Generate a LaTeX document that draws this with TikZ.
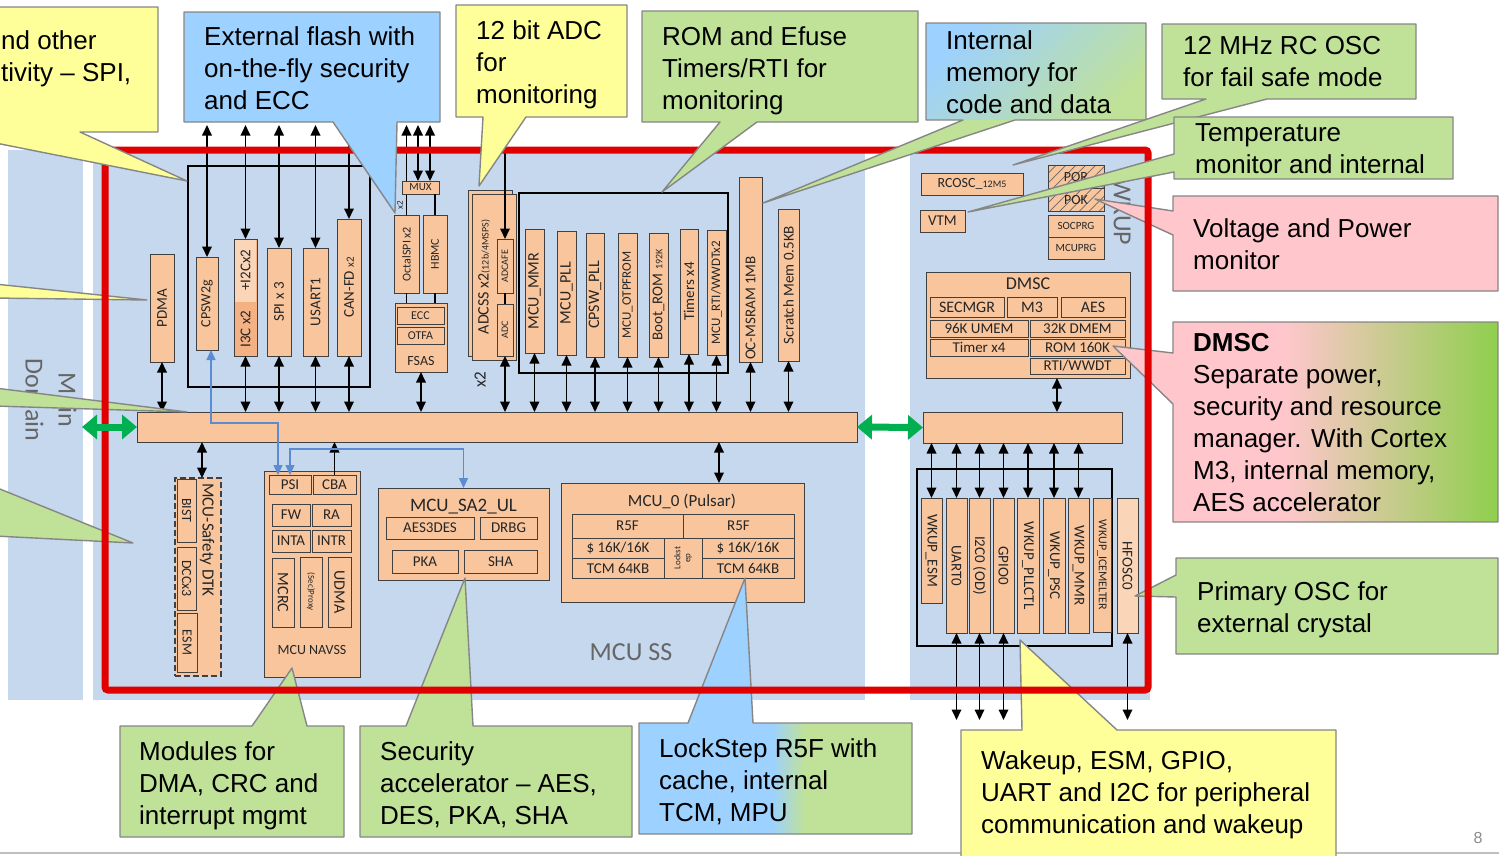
\documentclass[tikz,border=0pt]{standalone}
\usepackage{fontspec}
\setmainfont{Liberation Sans}
\newfontfamily\carl{Carlito}
\usetikzlibrary{arrows.meta,patterns.meta}
\newcommand\fsz[2]{\fontsize{#1}{#2}\selectfont}
\newcommand\pbox[6]{%
 \pgfmathsetmacro\mbW{#4-#2}\pgfmathsetmacro\mbH{#5-#3}%
 \pgfmathsetmacro\mbX{(#2+#4)/2}\pgfmathsetmacro\mbY{(#3+#5)/2}%
 \node[#6, minimum width=\mbW pt, minimum height=\mbH pt] (#1) at (\mbX,\mbY) {};}
\newcommand\mybox[8]{\pbox{#1}{#2}{#3}{#4}{#5}{#6}\node[#7] (#1-t) at (#1.center) {#8};}
\definecolor{orng}{HTML}{F8C59D}
\definecolor{orngD}{HTML}{F4B183}
\definecolor{orngL}{HTML}{FBD5B7}
\definecolor{dom}{HTML}{C6D8EE}
\definecolor{cyel}{HTML}{FFFF99}
\definecolor{cgrn}{HTML}{BFE198}
\definecolor{cblu}{HTML}{9DD1FF}
\definecolor{cpnk}{HTML}{FFC7CC}
\definecolor{gdeep}{HTML}{8FCF4E}
\definecolor{redl}{HTML}{E00000}
\definecolor{garr}{HTML}{00B050}
\definecolor{barr}{HTML}{5B8BD0}
\definecolor{cbord}{HTML}{868686}
\begin{document}
\begin{tikzpicture}[x=1pt,y=-1pt,
 mod/.style={draw=black!75, line width=1pt, fill=orng, inner sep=0pt, outer sep=0pt},
 frame/.style={draw=black, line width=2pt, inner sep=0pt, outer sep=0pt},
 lab/.style={font=\carl\fsz{15}{16}, text=black!85, inner sep=0pt},
 gtxt/.style={font=\carl\fsz{26}{33}, text=black!60, inner sep=0pt},
 darr/.style={line width=1.8pt, {Triangle[length=10.5pt,width=9.5pt]}-{Triangle[length=10.5pt,width=9.5pt]}},
 uarr/.style={line width=1.8pt, -{Triangle[length=10.5pt,width=9.5pt]}},
 conn/.style={line width=1.5pt},
 bdarr/.style={line width=1.3pt, draw=barr, {Triangle[length=10pt,width=9pt]}-{Triangle[length=10pt,width=9pt]}},
 garrow/.style={line width=7pt, draw=garr, {Triangle[length=15pt,width=24pt]}-{Triangle[length=15pt,width=24pt]}},
 callout/.style={draw=cbord, line width=1.4pt, line join=round},
 ctext/.style={font=\fsz{26}{32}, align=left, anchor=north west, inner sep=0pt, text=black}]
\useasboundingbox (0,0) rectangle (1499,855);
\fill[white] (0,0) rectangle (1499,855);
\clip (0,0) rectangle (1499,855);
\draw[black!25, line width=2pt] (0,853) -- (1499,853);
\node[font=\fsz{16}{18}, text=black!45] (pgn) at (1478,838) {8};

% domains
\fill[dom] (8,150) rectangle (83,700);
\fill[dom] (93,150) rectangle (865,700);
\fill[dom] (910,153) rectangle (1150,700);
\node[gtxt, rotate=-90, align=center] (maindom) at (51,400) {Main\\Domain};
\node[gtxt] (mcuss) at (631,652) {MCU SS};
\node[gtxt, rotate=-90] (wkupl) at (1122,212) {WKUP};

\coordinate (ytop) at (0,125);
\coordinate (ybot) at (0,720);
\coordinate (adctop) at (0,152);
\coordinate (blA) at (0,423);
\coordinate (blB) at (0,449);
\coordinate (xm0) at (719,0);
\coordinate (xd) at (1057,0);
\coordinate (mdom) at (82,427);

% buses
\pbox{mbus}{137}{412}{857}{442}{mod}
\pbox{wbus}{923}{412}{1122}{443}{mod}

% ---------- left group
\pbox{lframe}{188}{166}{370}{387}{frame}
\mybox{pdma}{150}{254}{174}{362}{mod}{lab,rotate=90}{PDMA}
\mybox{cpsw}{196}{257}{218}{350}{mod}{lab,rotate=90,font=\carl\fsz{14}{15}}{CPSW2g}
\pbox{i3c}{234}{239}{257}{356}{mod,fill=orngD}
\fill[orngL] (234.6,239.6) rectangle (256.4,302);
\node[lab,rotate=90] (i3c-a) at (245.5,329) {I3C x2};
\node[lab,rotate=90] (i3c-b) at (245.5,270) {+I2Cx2};
\mybox{spi}{267}{248}{291}{356}{mod}{lab,rotate=90}{SPI x 3}
\mybox{usart}{303}{248}{328}{356}{mod}{lab,rotate=90}{USART1}
\mybox{can}{337}{219}{361}{356}{mod}{lab,rotate=90}{CAN-FD {\fsz{11}{12}x2}}
\foreach \n in {cpsw,i3c,spi,usart,can} \draw[darr] (\n.north) -- (\n.north |- ytop);
\foreach \n in {pdma,i3c,spi,usart,can} \draw[darr] (\n.south) -- (\n.south |- mbus.north);

% ---------- OSPI / FSAS
\mybox{octal}{394}{215}{419}{293}{mod}{lab,rotate=90,font=\carl\fsz{12}{13}}{OctalSPI x2}
\mybox{hbmc}{423}{215}{447}{293}{mod}{lab,rotate=90,font=\carl\fsz{12}{13}}{HBMC}
\pbox{fsas}{395}{303}{447}{372}{mod}
\mybox{ecc}{397}{307}{444}{324}{mod}{lab,font=\carl\fsz{12}{13}}{ECC}
\mybox{otfa}{397}{327}{444}{344}{mod}{lab,font=\carl\fsz{12}{13}}{OTFA}
\node[lab,font=\carl\fsz{14}{15}] (fsas-t) at (421,361) {FSAS};
\draw[uarr] (octal.north) -- (octal.north |- ytop);
\mybox{mux}{402}{181}{439}{194}{mod}{lab,font=\carl\fsz{11}{12}}{MUX}
\node[lab,rotate=90,font=\carl\fsz{9}{10}] (x2a) at (400,205) {x2};
\draw[conn] (octal.south) -- (octal.south |- fsas.north);
\draw[conn] (hbmc.south) -- (hbmc.south |- fsas.north);
\draw[conn] (hbmc.north) -- (hbmc.north |- mux.south);
\draw[darr] ([xshift=-2.5pt]mux.north) -- ([xshift=-2.5pt]mux.north |- ytop);
\draw[darr] ([xshift=9.5pt]mux.north) -- ([xshift=9.5pt]mux.north |- ytop);
\draw[darr] (fsas.south) -- (fsas.south |- mbus.north);

% ---------- ADCSS
\pbox{adcB}{468}{190}{512}{356}{mod}
\pbox{adcss}{472}{194}{516}{360}{mod}
\node[lab,rotate=90,font=\carl\fsz{16}{17}] (adcss-t) at (484,277) {ADCSS x2{\fsz{10}{11}(12b/4MSPS)}};
\mybox{adcafe}{497}{239}{513}{293}{mod}{lab,rotate=90,font=\carl\fsz{10}{11}}{ADCAFE}
\mybox{adc}{497}{304}{513}{356}{mod}{lab,rotate=90,font=\carl\fsz{10}{11}}{ADC}
\draw[conn] (adcafe.south) -- (adc.north);
\draw[uarr] (adcafe.north |- adctop) -- (adcafe.north);
\draw[darr] (adc.south) -- (adc.south |- mbus.north);
\node[lab,rotate=90,font=\carl\fsz{17}{18}] (x2b) at (480,380) {x2};

% ---------- MCU group
\pbox{mframe}{519}{193}{728}{373}{frame}
\mybox{mmr}{525}{229}{544}{353}{mod}{lab,rotate=90,font=\carl\fsz{16}{17}}{MCU\_MMR}
\mybox{mpll}{557}{231}{576}{355}{mod}{lab,rotate=90,font=\carl\fsz{16}{17}}{MCU\_PLL}
\mybox{cpll}{586}{233}{604}{357}{mod}{lab,rotate=90,font=\carl\fsz{16}{17}}{CPSW\_PLL}
\mybox{otp}{618}{233}{637}{357}{mod}{lab,rotate=90,font=\carl\fsz{13}{14}}{MCU\_OTPFROM}
\mybox{brom}{649}{233}{668}{357}{mod}{lab,rotate=90}{Boot\_ROM {\fsz{10}{11}192K}}
\mybox{tmr}{680}{229}{698}{354}{mod}{lab,rotate=90}{Timers x4}
\mybox{rti}{707}{230}{726}{355}{mod}{lab,rotate=90,font=\carl\fsz{13}{14}}{MCU\_RTI/WWDTx2}
\pbox{msram}{739}{177}{762}{362}{mod}
\node[lab,rotate=90] (msram-t) at (750.5,308) {OC-MSRAM 1MB};
\mybox{scr}{778}{209}{799}{361}{mod}{lab,rotate=90}{Scratch Mem 0.5KB}
\foreach \n in {mmr,mpll,cpll,otp,brom,tmr,rti,msram,scr} \draw[darr] (\n.south) -- (\n.south |- mbus.north);

% ---------- Safety DTK
\pbox{dtk}{175}{478}{221}{676}{mod,dash pattern=on 6pt off 3pt,line width=1.3pt}
\node[lab,rotate=-90,font=\carl\fsz{17}{18}] (dtk-t) at (207,540) {MCU-Safety DTK};
\mybox{bist}{177}{479}{196}{542}{mod}{lab,rotate=-90,font=\carl\fsz{14}{15}}{BIST}
\mybox{dcc}{177}{547}{196}{610}{mod}{lab,rotate=-90,font=\carl\fsz{14}{15}}{DCCx3}
\mybox{esm}{177}{613}{197}{672}{mod}{lab,rotate=-90,font=\carl\fsz{14}{15}}{ESM}

% ---------- NAVSS
\pbox{navss}{264}{471}{360}{677}{mod}
\node[lab,font=\carl\fsz{14}{15}] (navss-t) at (312,650) {MCU NAVSS};
\mybox{psi}{269}{475}{311}{494}{mod}{lab}{PSI}
\mybox{cba}{313}{475}{356}{494}{mod}{lab}{CBA}
\mybox{fw}{272}{504}{310}{526}{mod}{lab}{FW}
\mybox{ra}{312}{504}{351}{526}{mod}{lab}{RA}
\mybox{inta}{272}{530}{310}{552}{mod}{lab}{INTA}
\mybox{intr}{312}{530}{351}{552}{mod}{lab}{INTR}
\mybox{mcrc}{272}{558}{294}{627}{mod}{lab,rotate=-90,font=\carl\fsz{16}{17}}{MCRC}
\mybox{sprox}{300}{557}{322}{627}{mod}{lab,rotate=-90,font=\carl\fsz{9}{10}}{(Sec)Proxy}
\mybox{udma}{328}{557}{351}{627}{mod}{lab,rotate=-90,font=\carl\fsz{16}{17}}{UDMA}

% ---------- SA2
\pbox{sa2}{378}{488}{549}{580}{mod}
\node[lab,font=\carl\fsz{19}{20}] (sa2-t) at (463.5,507) {MCU\_SA2\_UL};
\mybox{aes3}{386}{517}{474}{539}{mod}{lab}{AES3DES}
\mybox{drbg}{480}{517}{537}{539}{mod}{lab}{DRBG}
\mybox{pka}{392}{550}{458}{573}{mod}{lab}{PKA}
\mybox{sha}{464}{550}{537}{573}{mod}{lab}{SHA}

% ---------- MCU_0
\pbox{mcu0}{561}{483}{804}{602}{mod}
\node[lab,font=\carl\fsz{17}{18}] (mcu0-t) at (682,501) {MCU\_0 (Pulsar)};
\mybox{r5fa}{572}{514}{683}{538}{mod}{lab}{R5F}
\mybox{r5fb}{683}{514}{794}{538}{mod}{lab}{R5F}
\mybox{caa}{572}{538}{664}{558}{mod}{lab}{\$ 16K/16K}
\mybox{tcma}{572}{558}{664}{578}{mod}{lab}{TCM 64KB}
\mybox{lock}{664}{538}{702}{578}{mod}{lab,rotate=90,align=center,font=\carl\fsz{9}{10}}{Lockst\\ep}
\mybox{cab}{702}{538}{794}{558}{mod}{lab}{\$ 16K/16K}
\mybox{tcmb}{702}{558}{794}{578}{mod}{lab}{TCM 64KB}

% connectors lower MCU
\draw[darr] ([xshift=4pt]dtk.north) -- ([xshift=4pt]dtk.north |- mbus.south);
\draw[uarr] (cba.north) -- (cba.north |- mbus.south);
\draw[darr] (mbus.south -| xm0) -- (mcu0.north -| xm0);
\draw[bdarr] ([xshift=4pt]cpsw.south) -- ([xshift=4pt]cpsw.south |- blA) -| ([xshift=-12pt]psi.north);
\draw[bdarr] (psi.north) -- (psi.north |- blB) -| (sa2.north);

% ---------- WKUP top
\mybox{rcosc}{921}{173}{1023}{195}{mod}{lab,font=\carl\fsz{14}{15}}{RCOSC\_{\fsz{10}{11}12M5}}
\mybox{vtm}{920}{210}{965}{232}{mod}{lab}{VTM}
\pbox{por}{1048}{165}{1104}{188}{mod}
\pbox{pok}{1048}{188}{1104}{211}{mod}
\fill[pattern={Lines[angle=45,distance=7pt,line width=0.7pt]}, pattern color=black!60] (1048,165) rectangle (1104,211);
\draw[black!75,line width=1pt] (1048,165) rectangle (1104,211) (1048,188) -- (1104,188);
\node[lab,font=\carl\fsz{14}{15}] (por-t) at (por.center) {POR};
\node[lab,font=\carl\fsz{14}{15}] (pok-t) at (pok.center) {POK};
\mybox{socprg}{1048}{215}{1104}{237}{mod}{lab,font=\carl\fsz{11}{12}}{SOCPRG}
\mybox{mcuprg}{1048}{237}{1104}{259}{mod}{lab,font=\carl\fsz{11}{12}}{MCUPRG}

% ---------- DMSC
\pbox{dmsc}{926}{272}{1130}{378}{mod}
\node[lab,font=\carl\fsz{18}{19}] (dmsc-t) at (1028,284) {DMSC};
\mybox{secmgr}{930}{297}{1004}{317}{mod}{lab,font=\carl\fsz{16}{17}}{SECMGR}
\mybox{m3}{1007}{297}{1057}{317}{mod}{lab,font=\carl\fsz{16}{17}}{M3}
\mybox{aes}{1061}{297}{1125}{317}{mod}{lab,font=\carl\fsz{16}{17}}{AES}
\mybox{umem}{930}{320}{1028}{337}{mod}{lab}{96K UMEM}
\mybox{dmem}{1030}{320}{1125}{337}{mod}{lab}{32K DMEM}
\mybox{dtimer}{930}{339}{1028}{356}{mod}{lab}{Timer x4}
\mybox{drom}{1030}{339}{1125}{356}{mod}{lab}{ROM 160K}
\mybox{drti}{1030}{358}{1125}{374}{mod}{lab}{RTI/WWDT}
\draw[darr] (dmsc.south -| xd) -- (wbus.north -| xd);

% ---------- WKUP peripherals
\pbox{wframe}{917}{469}{1112}{646}{frame}
\mybox{wesm}{921}{498}{942}{603}{mod}{lab,rotate=-90}{WKUP\_ESM}
\mybox{uart}{946}{498}{967}{633}{mod}{lab,rotate=-90}{UART0}
\mybox{i2c}{969}{498}{990}{633}{mod}{lab,rotate=-90}{I2C0 (OD)}
\mybox{gpio}{993}{498}{1014}{633}{mod}{lab,rotate=-90}{GPIO0}
\mybox{pllctl}{1017}{498}{1039}{633}{mod}{lab,rotate=-90}{WKUP\_PLLCTL}
\mybox{psc}{1043}{498}{1065}{633}{mod}{lab,rotate=-90}{WKUP\_PSC}
\mybox{wmmr}{1068}{498}{1089}{633}{mod}{lab,rotate=-90}{WKUP\_MMR}
\mybox{icem}{1093}{498}{1111}{632}{mod}{lab,rotate=-90,font=\carl\fsz{12}{13}}{WKUP\_ICEMELTER}
\mybox{hfosc}{1117}{498}{1138}{633}{mod,fill=orngL}{lab,rotate=-90}{HFOSC0}
\foreach \n in {wesm,uart,i2c,gpio,pllctl,psc,wmmr} \draw[darr] (\n.north) -- (\n.north |- wbus.south);
\foreach \n in {uart,i2c,gpio,hfosc} \draw[darr] (\n.south) -- (\n.south |- ybot);

% ---------- left tails (callouts outside the picture)
\filldraw[callout, fill=cyel] (-5,284) -- (147,300) -- (-5,298) -- cycle;
\filldraw[callout, fill=cgrn] (-5,388) -- (187,412) -- (-5,406) -- cycle;
\filldraw[callout, fill=cgrn] (-5,487) -- (133,543) -- (-5,536) -- cycle;

% ---------- bottom and right callouts
\filldraw[callout, fill=cgrn] (120,726) -- (252,726) -- (292,668) -- (307,726) -- (344,726) -- (344,837) -- (120,837) -- cycle;
\node[ctext] (c-mod) at (139,741) {Modules for\\DMA, CRC and\\interrupt mgmt};
\filldraw[callout, fill=cgrn] (360,726) -- (406,726) -- (465,578) -- (473,726) -- (632,726) -- (632,837) -- (360,837) -- cycle;
\node[ctext] (c-sec) at (380,741) {Security\\accelerator – AES,\\DES, PKA, SHA};
\fill[cblu] (639,723) -- (688,723) -- (745,578) -- (753,723) -- (912,723) -- (912,834) -- (639,834) -- cycle;
\fill[cgrn] (805,723) rectangle (912,834);
\shade[left color=cblu, right color=cgrn] (772,723.5) rectangle (805,833.5);
\draw[callout] (639,723) -- (688,723) -- (745,578) -- (753,723) -- (912,723) -- (912,834) -- (639,834) -- cycle;
\node[ctext] (c-lock) at (659,738) {LockStep R5F with\\cache, internal\\TCM, MPU};
\filldraw[callout, fill=cyel] (961,730) -- (1022,730) -- (1020,640) -- (1117,730) -- (1336,730) -- (1336,870) -- (961,870) -- cycle;
\node[ctext] (c-wk) at (981,750) {Wakeup, ESM, GPIO,\\UART and I2C for peripheral\\communication and wakeup};
\filldraw[callout, fill=cpnk] (1173,196) -- (1498,196) -- (1498,291) -- (1173,291) -- (1173,235) -- (1095,199) -- (1173,211) -- cycle;
\node[ctext] (c-volt) at (1193,218) {Voltage and Power\\monitor};
\fill[cpnk] (1173,322) -- (1498,322) -- (1498,522) -- (1173,522) -- (1173,404) -- (1113,346) -- (1173,353) -- cycle;
\shade[left color=cpnk, right color=gdeep] (1285,322.5) rectangle (1497.5,521.5);
\draw[callout] (1173,322) -- (1498,322) -- (1498,522) -- (1173,522) -- (1173,404) -- (1113,346) -- (1173,353) -- cycle;
\node[ctext] (c-dmsc) at (1193,333) {\textbf{DMSC}\\Separate power,\\security and resource\\manager. With Cortex\\M3, internal memory,\\AES accelerator};
\filldraw[callout, fill=cgrn] (1176,558) -- (1498,558) -- (1498,654) -- (1176,654) -- (1176,597) -- (1135,596) -- (1176,575) -- cycle;
\node[ctext] (c-osc) at (1197,581) {Primary OSC for\\external crystal};

% ---------- red frame
\draw[redl, line width=7pt, rounded corners=3pt] (105,150) rectangle (1148,690);

% ---------- green bus arrows
\draw[garrow] (mdom) -- (mbus.west);
\draw[garrow] (mbus.east) -- (wbus.west);

% ---------- top callouts
\filldraw[callout, fill=cyel] (-100,7) -- (158,7) -- (158,132) -- (80,132) -- (187,181) -- (-60,132) -- (-100,132) -- cycle;
\node[ctext] (c-tl) at (1,30) {nd other\\tivity – SPI,};
\filldraw[callout, fill=cblu] (184,12) -- (440,12) -- (440,122) -- (397,122) -- (395,213) -- (333,122) -- (184,122) -- cycle;
\node[ctext] (c-ef) at (204,26) {External flash with\\on-the-fly security\\and ECC};
\filldraw[callout, fill=cyel] (456,5) -- (627,5) -- (627,117) -- (526,117) -- (479,186) -- (483,117) -- (456,117) -- cycle;
\node[ctext] (c-adc) at (476,20) {12 bit ADC\\for\\monitoring};
\filldraw[callout, fill=cgrn] (642,11) -- (918,11) -- (918,122) -- (757,122) -- (662,192) -- (720,122) -- (642,122) -- cycle;
\node[ctext] (c-rom) at (662,26) {ROM and Efuse\\Timers/RTI for\\monitoring};
\fill[cgrn] (926,23) -- (1146,23) -- (1146,120) -- (1015,120) -- (763,203) -- (963,120) -- (926,120) -- cycle;
\shade[top color=cblu, bottom color=cgrn, shading angle=45] (926.5,23.5) rectangle (1145.5,119.5);
\draw[callout] (926,23) -- (1146,23) -- (1146,120) -- (1015,120) -- (763,203) -- (963,120) -- (926,120) -- cycle;
\node[ctext] (c-im) at (946,30) {Internal\\memory for\\code and data};
\filldraw[callout, fill=cgrn] (1162,24) -- (1416,24) -- (1416,99) -- (1267,99) -- (1013,165) -- (1206,99) -- (1162,99) -- cycle;
\node[ctext] (c-rc) at (1183,36) {12 MHz RC OSC\\for fail safe mode};
\filldraw[callout, fill=cgrn] (1174,117) -- (1453,117) -- (1453,179) -- (1174,179) -- (1174,172) -- (968,212) -- (1174,154) -- cycle;
\node[ctext] (c-temp) at (1195,123) {Temperature\\monitor and internal};
\end{tikzpicture}
\end{document}
